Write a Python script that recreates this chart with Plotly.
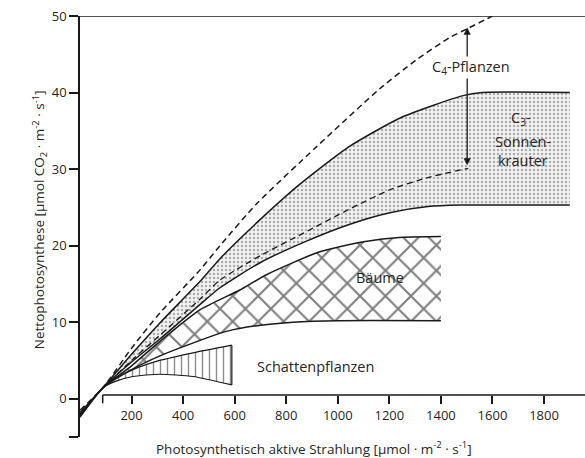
import plotly.graph_objects as go

# ---- data ----
c4_x = [0, 88, 200, 310, 465, 543, 686, 917, 1163, 1306, 1435, 1506, 1600]
c4_y = [-1.5, 1.4, 6.6, 11.2, 16.8, 20.0, 25.5, 32.9, 40.5, 44.3, 47.2, 48.4, 50.0]

c3_up_x = [0, 88, 200, 310, 465, 543, 686, 852, 1047, 1250, 1486, 1560, 1900]
c3_up_y = [-1.8, 1.4, 5.8, 9.9, 15.3, 18.3, 23.0, 28.0, 33.0, 36.8, 39.6, 40.0, 40.0]

c3_lo_x = [0, 88, 200, 310, 465, 543, 700, 865, 1047, 1202, 1350, 1474, 1900]
c3_lo_y = [-2.0, 1.4, 4.8, 7.8, 12.3, 14.5, 17.8, 20.4, 22.8, 24.3, 25.1, 25.3, 25.3]

c3_mid_x = [88, 200, 310, 465, 543, 700, 865, 1047, 1202, 1350, 1506]
c3_mid_y = [1.4, 5.0, 8.3, 13.0, 15.5, 18.7, 21.6, 24.8, 27.3, 28.9, 30.1]

tree_up_x = [0, 88, 200, 310, 465, 620, 723, 930, 1100, 1250, 1400]
tree_up_y = [-2.2, 1.4, 4.3, 7.5, 11.6, 14.2, 16.2, 19.2, 20.5, 21.1, 21.2]
tree_lo_x = [0, 88, 200, 310, 440, 568, 700, 826, 1000, 1400]
tree_lo_y = [-2.2, 1.4, 3.8, 5.6, 7.3, 8.8, 9.6, 10.0, 10.2, 10.2]

shade_up_x = [0, 88, 140, 205, 309, 439, 589]
shade_up_y = [-2.4, 1.4, 2.7, 3.8, 5.0, 6.0, 7.0]
shade_lo_x = [0, 88, 140, 205, 309, 439, 589]
shade_lo_y = [-2.4, 1.4, 2.3, 2.9, 3.2, 2.9, 1.8]

arrow_x = 1502
arrow_y = [30.3, 48.5]

x_ticks = [200, 400, 600, 800, 1000, 1200, 1400, 1600, 1800]
y_ticks = [-5, 0, 10, 20, 30, 40, 50]
y_ticktext = ["", "0", "10", "20", "30", "40", "50"]

X_MAX = 1959
Y_MIN, Y_MAX = -5, 50
AXIS_Y = 0.5

FONT = "Open Sans, Liberation Sans, sans-serif"
INK = "#1a1a1a"
TXT = "#262626"

fig = go.Figure()


def band(ux, uy, lx, ly, pattern, start=1):
    px = list(ux[start:]) + list(lx[start:])[::-1]
    py = list(uy[start:]) + list(ly[start:])[::-1]
    fig.add_trace(go.Scatter(x=px, y=py, mode="lines", fill="toself",
                             line=dict(width=0, color="rgba(0,0,0,0)"),
                             fillcolor="white", fillpattern=pattern,
                             hoverinfo="skip", showlegend=False))


# fills
band(c3_up_x, c3_up_y, c3_lo_x, c3_lo_y,
     dict(shape=".", size=4, solidity=0.3, fgcolor="#666666", bgcolor="#f2f2f2"))
band(tree_up_x, tree_up_y, tree_lo_x, tree_lo_y,
     dict(shape="x", size=18, solidity=0.22, fgcolor="#000000", bgcolor="white"))
band(shade_up_x, shade_up_y, shade_lo_x, shade_lo_y,
     dict(shape="|", size=7, solidity=0.2, fgcolor=INK, bgcolor="white"), start=2)


def line(x, y, dash="solid", w=1.5):
    fig.add_trace(go.Scatter(x=x, y=y, mode="lines",
                             line=dict(color=INK, width=w, dash=dash, shape="spline", smoothing=0.6),
                             hoverinfo="skip", showlegend=False))


line(c4_x, c4_y, dash="6px,4px")
line(c3_up_x, c3_up_y)
line(c3_lo_x, c3_lo_y)
line(c3_mid_x, c3_mid_y, dash="6px,4px", w=1.3)
line(tree_up_x, tree_up_y)
line(tree_lo_x, tree_lo_y)
line(shade_up_x, shade_up_y, w=1.2)
line(shade_lo_x, shade_lo_y, w=1.2)
# right edge of shade region
fig.add_trace(go.Scatter(x=[shade_up_x[-1], shade_lo_x[-1]], y=[shade_up_y[-1], shade_lo_y[-1]],
                         mode="lines", line=dict(color=INK, width=1.2), hoverinfo="skip", showlegend=False))

# frame lines
fig.add_shape(type="line", xref="x", yref="y", x0=0, x1=X_MAX, y0=Y_MAX, y1=Y_MAX,
              line=dict(color=INK, width=1.5))
fig.add_shape(type="line", xref="x", yref="y", x0=88, x1=X_MAX, y0=AXIS_Y, y1=AXIS_Y,
              line=dict(color=INK, width=1.5))
fig.add_shape(type="line", xref="x", yref="y", x0=88, x1=88, y0=AXIS_Y, y1=AXIS_Y - 1.1,
              line=dict(color=INK, width=1.5))

# double arrow
fig.add_annotation(x=arrow_x, y=arrow_y[1], ax=arrow_x, ay=arrow_y[0], xref="x", yref="y",
                   axref="x", ayref="y", text="", showarrow=True, arrowhead=2, startarrowhead=2,
                   arrowside="end+start", arrowsize=1.1, startarrowsize=1.1, arrowwidth=1.3, arrowcolor=INK)

lab = dict(family=FONT, size=14.5, color=TXT)
fig.add_annotation(x=1516, y=43.3, text="C<sub>4</sub>-Pflanzen", showarrow=False, font=lab,
                   bgcolor="white", borderpad=0)
fig.add_annotation(x=1712, y=36.6, text="C<sub>3</sub>-", showarrow=False, font=lab)
fig.add_annotation(x=1718, y=33.6, text="Sonnen-", showarrow=False, font=lab)
fig.add_annotation(x=1718, y=31.1, text="krauter", showarrow=False, font=lab)
fig.add_annotation(x=1164, y=15.8, text="Bäume", showarrow=False, font=lab)
fig.add_annotation(x=915, y=4.2, text="Schattenpflanzen", showarrow=False, font=lab)

# axis titles
title_font = dict(family=FONT, size=13.5, color=TXT)
fig.add_annotation(xref="x", yref="paper", x=907, y=-0.026, yanchor="middle",
                   text="Photosynthetisch aktive Strahlung [μmol · m<sup>-2</sup> · s<sup>-1</sup>]",
                   showarrow=False, font=title_font)
fig.add_annotation(xref="paper", yref="paper", x=-0.106, y=0.516, textangle=-90,
                   text="Nettophotosynthese [μmol CO<sub>2</sub> · m<sup>-2</sup> · s<sup>-1</sup>]",
                   showarrow=False, font=title_font)

fig.update_layout(
    width=585, height=458,
    margin=dict(l=80, r=0, t=16, b=21),
    paper_bgcolor="white", plot_bgcolor="white",
    font=dict(family=FONT, size=13, color=TXT),
    showlegend=False,
    xaxis=dict(range=[0, X_MAX], tickvals=x_ticks, ticks="outside", ticklen=8, tickwidth=1.5,
               tickcolor=INK, showline=False, showgrid=False, zeroline=False,
               anchor="free", position=(AXIS_Y - Y_MIN) / (Y_MAX - Y_MIN),
               tickfont=dict(family=FONT, size=13, color=TXT)),
    yaxis=dict(range=[Y_MIN, Y_MAX], tickvals=y_ticks, ticktext=y_ticktext, ticks="outside",
               ticklen=9, tickwidth=1.5, tickcolor=INK, showline=True, linecolor=INK, linewidth=1.5,
               showgrid=False, zeroline=False,
               tickfont=dict(family=FONT, size=13, color=TXT)),
)

fig.write_html("out.html")
